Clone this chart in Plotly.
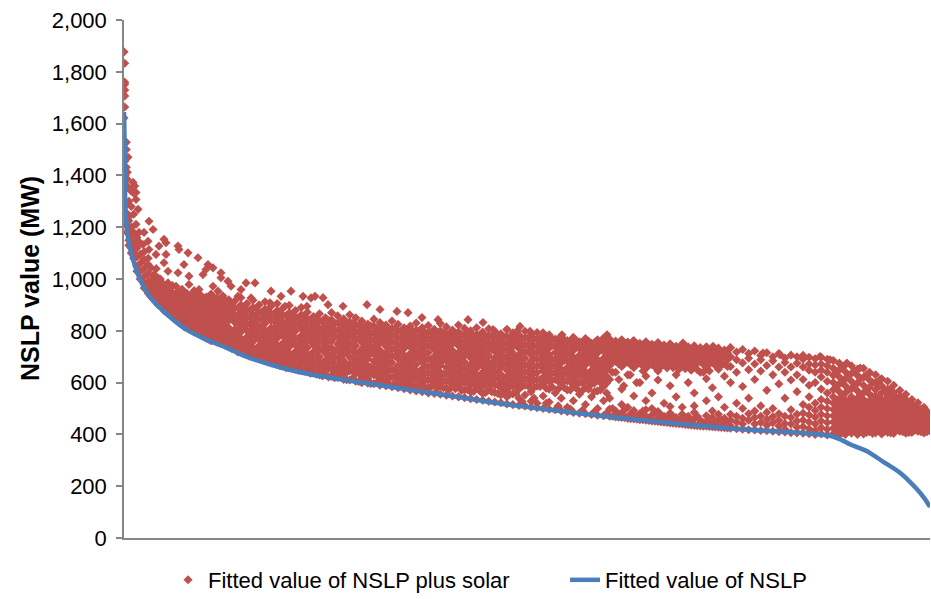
import plotly.graph_objects as go

# ---------------- Data ----------------
# x = share of the period (0-100 %, sorted by NSLP), y = MW
blue_x = [0, 0.09, 0.16, 0.5, 1.12, 2.11, 3.35, 5.46, 7.57, 10.05, 12.53, 14.76,
          18.98, 23.08, 27.17, 31.39, 35.48, 39.58, 43.8, 47.89, 59.06, 67.37,
          75.56, 83.87, 87.59, 88.8, 90.07, 92.2, 94.17, 96.28, 98.39, 99.38, 100]
blue_y = [1645, 1500, 1290, 1160, 1075, 990, 925, 860, 808, 768, 737, 705,
          662, 632, 611, 592, 572, 553, 533, 514, 472, 445,
          422, 406, 395, 382, 362, 335, 295, 252, 188, 150, 120]

# isolated red points (outliers above the dense cloud)
red_sparse_x = [0.0, 0.09, 0.09, 0.09, 0.09, 0.09, 0.09, 0.0, 0.29, 0.29, 0.5, 0.09, 0.29, 0.41,
                0.41, 1.12, 1.33, 0.9, 1.49, 1.24, 0.71, 0.87, 1.49, 1.74, 1.49, 1.86, 2.48,
                3.6, 3.1, 2.98, 2.36, 3.1, 4.34, 5.21, 4.96, 6.7, 6.82, 3.97, 5.21, 7.94, 9.18,
                2.48, 2.98, 4.96, 7.44, 10.42, 3.35, 5.46, 6.7, 10.17, 11.04, 3.72, 4.22, 8.06,
                9.8, 12.03, 12.03, 12.9, 4.22, 5.46, 6.45, 8.06, 11.04, 13.28, 15.14, 16.25,
                14.52, 4.59, 7.07, 9.31, 11.66, 14.14, 18.24, 19.48, 20.72, 22.21, 23.2, 19.98,
                18.11, 12.53, 15.76, 23.7, 24.69, 25.31, 22.7, 27.17, 30.15, 31.76, 33.87,
                35.24, 36.97, 38.96, 42.68, 44.54, 45.78, 47.52, 48.76, 49.13, 50.37, 51.99,
                54.34, 59.93, 63.15, 69.35, 73.08, 75.19, 79.28, 81.39, 84.24, 86.35, 87.59,
                89.7, 91.32, 92.31, 93.8, 95.04, 96.65, 98.76, 100,
                60.6, 61.4, 62.0, 62.8, 63.6, 64.4]
red_sparse_y = [1877, 1833, 1760, 1752, 1730, 1707, 1664, 1622, 1528, 1500, 1470, 1455, 1431, 1412,
                1385, 1373, 1359, 1346, 1334, 1330, 1243, 1340, 1307, 1269, 1211, 1180, 1180,
                1191, 1223, 1146, 1133, 1114, 1127, 1140, 1153, 1127, 1114, 1095, 1095, 1101, 1082,
                1075, 1056, 1063, 1056, 1056, 1043, 1030, 1024, 1037, 1043, 1017, 1005, 1011,
                1017, 1024, 1005, 991, 985, 985, 972, 979, 972, 972, 985, 985,
                959, 959, 953, 959, 953, 933, 953, 933, 953, 933, 927, 895,
                908, 921, 927, 933, 928, 901, 895, 895, 901, 882, 875,
                870, 851, 843, 843, 832, 805, 805, 798, 817, 798, 792,
                785, 785, 759, 753, 740, 734, 714, 708, 701, 701, 688,
                675, 656, 630, 611, 572, 534, 489, 456,
                640, 612, 588, 630, 600, 645]

# dense part of the red cloud, read column by column
red_col_x = [0.15, 0.35, 0.6, 0.9, 1.2, 1.6, 2.0, 2.5, 3.0, 3.5, 4.0, 4.5, 5.0, 5.5, 6.0,
             6.6, 7.2, 7.8, 8.4, 9.0, 9.6, 10.2, 10.8,
             11.5, 12.25, 13.0, 13.75, 14.5, 15.25, 16.0, 16.75, 17.5, 18.25, 19.0, 19.75,
             20.5, 21.25, 22.0, 22.75, 23.5, 24.25, 25.0, 25.75, 26.5, 27.25, 28.0, 28.75,
             29.5, 30.25, 31.0, 31.75, 32.5, 33.25, 34.0, 34.75, 35.5, 36.25, 37.0, 37.75,
             38.5, 39.25, 40.0, 40.75, 41.5, 42.25, 43.0, 43.75, 44.5, 45.25, 46.0, 46.75,
             47.5, 48.25, 49.0, 49.75, 50.5, 51.25, 52.0, 52.75, 53.5, 54.25, 55.0, 55.75,
             56.5, 57.25, 58.0, 58.75, 59.5,
             60.25, 61.0, 61.75, 62.5, 63.25, 64.0, 64.75, 65.5, 66.25, 67.0, 67.75, 68.5,
             69.25, 70.0, 70.75, 71.5, 72.25, 73.0, 73.75, 74.5,
             75.25, 76.0, 76.75, 77.5, 78.25, 79.0, 79.75, 80.5, 81.25, 82.0, 82.75, 83.5,
             84.25, 85.0, 85.75, 86.5, 87.25,
             88.0, 88.75, 89.5, 90.25, 91.0, 91.75, 92.5, 93.25, 94.0, 94.75, 95.5, 96.25,
             97.0, 97.75, 98.5, 99.25, 99.9]
red_col_y = [
    [1400, 1350, 1300, 1260, 1230], [1360, 1290, 1250, 1205, 1180], [1300, 1225, 1190, 1150, 1130],
    [1280, 1200, 1165, 1120, 1100], [1250, 1180, 1140, 1100, 1080], [1160, 1120, 1085, 1050, 1030],
    [1140, 1095, 1060, 1030, 1000], [1105, 1040, 1010, 985, 965], [1080, 1020, 990, 965, 945],
    [1000, 975, 950, 928], [1040, 985, 960, 935, 912], [1000, 975, 952, 928, 898],
    [965, 940, 918, 895, 877], [955, 930, 908, 885, 866], [975, 948, 925, 902, 880, 855],
    [950, 928, 905, 883, 862, 840], [960, 935, 912, 890, 868, 846, 825],
    [945, 922, 900, 878, 856, 834, 812], [940, 915, 892, 870, 848, 826, 803],
    [948, 925, 900, 878, 856, 835, 815, 793], [935, 912, 890, 866, 845, 824, 802, 782],
    [930, 905, 880, 855, 832, 810, 788, 771], [942, 915, 890, 865, 840, 817, 795, 772, 762],
    [925, 897, 871, 842, 818, 795, 772, 757], [935, 908, 880, 853, 826, 803, 780, 752],
    [920, 893, 866, 840, 812, 790, 765, 742], [915, 888, 858, 832, 806, 782, 757, 735],
    [928, 900, 873, 845, 820, 795, 770, 745, 722], [905, 878, 852, 826, 800, 776, 752, 730, 712],
    [918, 890, 862, 836, 810, 784, 758, 733, 705], [900, 872, 845, 818, 792, 768, 742, 718, 698],
    [912, 884, 856, 828, 802, 777, 750, 726, 700, 688], [895, 866, 840, 812, 786, 760, 735, 710, 685, 676],
    [905, 878, 850, 823, 797, 770, 745, 720, 695, 672], [888, 860, 832, 806, 780, 754, 728, 703, 680, 666],
    [898, 870, 842, 815, 789, 762, 737, 712, 688, 660], [878, 852, 825, 798, 772, 746, 720, 695, 668, 652],
    [890, 862, 835, 808, 782, 755, 730, 705, 680, 650], [872, 845, 815, 790, 762, 735, 708, 682, 655, 642],
    [855, 828, 800, 772, 745, 718, 690, 663, 638], [866, 838, 810, 783, 756, 728, 700, 673, 648, 630],
    [850, 822, 795, 768, 740, 713, 686, 660, 632], [870, 842, 815, 788, 760, 733, 706, 680, 652, 625],
    [858, 830, 802, 775, 748, 722, 695, 668, 642, 620], [846, 818, 790, 763, 737, 710, 684, 657, 632, 612],
    [862, 835, 808, 780, 752, 726, 698, 672, 646, 610], [850, 822, 795, 768, 742, 715, 688, 662, 636, 605],
    [838, 810, 784, 756, 730, 703, 676, 650, 625, 600], [826, 800, 772, 745, 718, 692, 665, 640, 615, 598],
    [845, 818, 790, 763, 736, 710, 683, 655, 630, 596], [832, 806, 778, 752, 725, 698, 672, 645, 618, 590],
    [822, 795, 768, 740, 714, 687, 660, 634, 605, 588], [838, 810, 783, 757, 730, 703, 677, 650, 622, 584],
    [825, 798, 772, 745, 718, 692, 665, 638, 612, 580], [812, 786, 760, 732, 706, 680, 653, 627, 598, 576],
    [818, 790, 764, 738, 712, 685, 658, 632, 605, 572], [830, 803, 776, 750, 724, 698, 670, 645, 618, 590, 568],
    [812, 785, 760, 733, 706, 680, 654, 627, 600, 565], [820, 794, 768, 742, 716, 690, 662, 636, 610, 582, 560],
    [806, 780, 755, 728, 702, 676, 650, 624, 595, 558], [828, 800, 773, 747, 720, 694, 667, 640, 614, 588, 555],
    [815, 788, 762, 736, 710, 684, 658, 632, 605, 578, 551], [803, 777, 750, 724, 698, 672, 646, 620, 594, 548],
    [822, 795, 768, 742, 716, 690, 663, 637, 610, 584, 545], [810, 784, 758, 732, 705, 680, 653, 626, 600, 572, 542],
    [800, 774, 748, 722, 696, 670, 644, 618, 592, 565, 538], [812, 786, 760, 734, 708, 682, 655, 630, 604, 578, 535],
    [795, 770, 744, 718, 692, 665, 640, 613, 586, 558, 532], [808, 782, 756, 730, 704, 678, 652, 626, 600, 572, 528],
    [798, 772, 746, 720, 694, 668, 642, 616, 590, 562, 525], [788, 762, 736, 710, 684, 658, 632, 606, 580, 552, 522],
    [805, 778, 752, 726, 700, 674, 648, 622, 596, 570, 545, 518], [792, 766, 740, 714, 688, 662, 636, 610, 584, 556, 515],
    [784, 758, 732, 706, 680, 654, 628, 602, 575, 540, 512], [798, 772, 746, 720, 694, 668, 642, 616, 590, 552, 510],
    [785, 760, 734, 708, 682, 656, 630, 604, 565, 528, 506], [793, 768, 742, 716, 690, 664, 638, 612, 586, 520, 503],
    [776, 750, 724, 698, 672, 646, 620, 595, 548, 500], [785, 760, 734, 708, 682, 656, 630, 604, 575, 525, 497],
    [768, 742, 716, 690, 664, 638, 612, 560, 495], [780, 755, 729, 703, 677, 651, 625, 598, 540, 491],
    [762, 736, 710, 684, 658, 632, 606, 572, 505, 488], [775, 750, 724, 698, 672, 646, 620, 592, 530, 485],
    [758, 732, 706, 680, 654, 628, 600, 555, 482], [770, 745, 720, 694, 668, 642, 616, 580, 515, 480],
    [752, 726, 700, 674, 648, 622, 595, 545, 477], [765, 740, 714, 688, 662, 636, 610, 568, 500, 474],
    [772, 746, 720, 694, 668, 642, 615, 585, 530, 472],
    [768, 742, 716, 690, 665, 612, 540, 498, 470], [760, 735, 709, 683, 640, 490, 467],
    [765, 738, 712, 686, 662, 575, 515, 482, 465], [757, 731, 705, 680, 630, 505, 468, 462],
    [762, 735, 709, 683, 658, 548, 492, 460], [752, 726, 700, 675, 600, 480, 457],
    [758, 732, 706, 680, 655, 625, 530, 495, 470, 455], [748, 722, 696, 670, 560, 500, 475, 452],
    [755, 728, 702, 676, 645, 610, 488, 462, 450], [745, 719, 693, 668, 520, 470, 447],
    [750, 724, 698, 672, 588, 508, 482, 458, 444], [740, 715, 690, 662, 630, 545, 465, 442],
    [748, 720, 694, 668, 505, 478, 455, 440], [738, 712, 686, 660, 600, 470, 448, 437],
    [742, 716, 690, 664, 560, 510, 485, 460, 435], [735, 708, 682, 640, 455, 433],
    [738, 712, 686, 658, 615, 530, 472, 450, 432], [730, 704, 678, 580, 490, 465, 445, 430],
    [733, 706, 680, 652, 545, 478, 455, 428], [726, 700, 672, 625, 505, 462, 440, 426],
    [735, 700, 662, 600, 478, 455, 432, 424], [718, 688, 640, 520, 470, 448, 422],
    [728, 676, 585, 500, 462, 440, 420], [712, 694, 650, 540, 480, 455, 418],
    [722, 672, 612, 490, 465, 440, 417], [705, 688, 645, 510, 470, 446, 415],
    [715, 666, 570, 485, 458, 435, 414], [700, 684, 630, 500, 468, 445, 412],
    [712, 660, 595, 480, 455, 432, 410], [695, 678, 640, 540, 470, 442, 420, 409],
    [706, 660, 610, 495, 465, 440, 407], [700, 675, 630, 565, 478, 452, 428, 406],
    [705, 690, 660, 612, 515, 482, 455, 430, 405], [698, 672, 648, 590, 545, 505, 475, 448, 422, 403],
    [692, 668, 640, 600, 520, 492, 466, 440, 415, 400], [698, 672, 648, 622, 575, 535, 505, 478, 452, 426, 402],
    [690, 665, 640, 605, 560, 528, 500, 472, 446, 420, 398],
    [685, 655, 628, 600, 572, 545, 520, 496, 472, 448, 425, 402], [675, 650, 622, 595, 565, 538, 515, 490, 466, 442, 418, 398],
    [670, 642, 615, 588, 560, 532, 518, 494, 470, 446, 422, 400], [665, 635, 605, 575, 545, 522, 498, 474, 450, 426, 405],
    [652, 628, 598, 568, 540, 516, 492, 468, 444, 420, 400], [655, 620, 590, 560, 535, 512, 488, 464, 440, 416, 402],
    [640, 610, 582, 555, 530, 506, 482, 458, 434, 410], [630, 600, 572, 548, 525, 500, 476, 452, 428, 406],
    [615, 588, 560, 535, 512, 488, 464, 440, 416, 402], [605, 575, 548, 526, 502, 478, 454, 430, 408],
    [590, 562, 538, 515, 492, 468, 444, 420, 404], [570, 548, 528, 505, 482, 458, 434, 412],
    [555, 535, 512, 490, 466, 442, 420, 405], [535, 518, 496, 472, 448, 426, 408],
    [522, 500, 478, 455, 432, 412], [505, 485, 462, 440, 420, 406], [480, 458, 436, 415],
]

# in-between columns of the dense cloud (it is nearly solid in the reference)
red_fill_x = [3.25, 3.75, 4.25, 4.75, 5.25, 5.75, 6.3, 6.9, 7.5, 8.1, 8.7, 9.3, 9.9, 10.5, 11.15,
              11.875, 12.625, 13.375, 14.125, 14.875, 15.625, 16.375, 17.125, 17.875, 18.625,
              19.375, 20.125, 20.875, 21.625, 22.375, 23.125, 23.875, 24.625, 25.375, 26.125,
              26.875, 27.625, 28.375, 29.125, 29.875, 30.625, 31.375, 32.125, 32.875, 33.625,
              34.375, 35.125, 35.875, 36.625, 37.375, 38.125, 38.875, 39.625, 40.375, 41.125,
              41.875, 42.625, 43.375, 44.125, 44.875, 45.625, 46.375, 47.125, 47.875, 48.625,
              49.375, 50.125, 50.875, 51.625, 52.375, 53.125, 53.875, 54.625, 55.375, 56.125,
              56.875, 57.625, 58.375, 59.125, 59.875,
              60.625, 61.375, 62.125, 62.875, 63.625, 64.375, 65.125, 65.875, 66.625, 67.375,
              68.125, 68.875, 69.625, 70.375, 71.125, 71.875, 72.625, 73.375, 74.125, 74.875,
              88.375, 89.125, 89.875, 90.625, 91.375, 92.125, 92.875, 93.625, 94.375, 95.125,
              95.875, 96.625, 97.375, 98.125, 98.875, 99.6]
red_fill_y = [
    [985, 958, 935], [1010, 965, 940, 918], [970, 945, 920, 900], [985, 962, 938, 915, 890],
    [950, 925, 902, 882], [965, 940, 918, 895, 872], [938, 915, 892, 870, 850],
    [945, 920, 898, 876, 853, 836], [950, 925, 902, 880, 858, 836, 815],
    [930, 908, 886, 864, 842, 820, 806], [955, 928, 905, 882, 860, 838, 816, 796],
    [935, 912, 890, 866, 845, 823, 802, 788], [920, 895, 870, 848, 826, 804, 783],
    [925, 900, 875, 850, 828, 806, 782, 768], [930, 905, 880, 855, 830, 808, 785, 764],
    [912, 884, 856, 830, 805, 782, 762], [898, 870, 843, 818, 793, 770, 748],
    [905, 876, 850, 798, 772, 748, 732], [888, 860, 835, 808, 783, 760, 733, 718],
    [892, 865, 838, 812, 763, 740, 716], [880, 852, 825, 800, 774, 748, 722, 702],
    [886, 858, 830, 805, 780, 728, 703], [872, 845, 818, 792, 765, 740, 714, 692],
    [878, 850, 797, 770, 746, 720, 695, 680], [865, 838, 810, 784, 758, 732, 706, 682],
    [870, 842, 815, 788, 736, 710, 685, 665], [858, 830, 803, 776, 750, 724, 700, 675, 658],
    [862, 835, 808, 782, 756, 705, 680, 655], [850, 822, 770, 743, 718, 692, 668, 648],
    [855, 828, 802, 776, 750, 724, 698, 672, 645], [842, 815, 788, 762, 708, 683, 657, 636],
    [848, 820, 793, 767, 740, 714, 688, 662, 632], [836, 808, 782, 755, 728, 676, 650, 626],
    [840, 812, 786, 760, 733, 707, 681, 655, 622], [830, 803, 776, 724, 697, 670, 645, 619],
    [835, 808, 782, 755, 728, 702, 676, 650, 624], [824, 797, 770, 744, 718, 666, 640, 611],
    [828, 802, 775, 749, 722, 696, 670, 644, 618], [822, 795, 768, 715, 689, 663, 637, 604],
    [815, 788, 762, 736, 710, 684, 658, 632, 610], [818, 792, 765, 739, 713, 660, 634, 597],
    [810, 784, 757, 731, 705, 679, 653, 627, 600], [812, 786, 760, 708, 681, 655, 628, 602],
    [805, 779, 753, 727, 700, 674, 648, 620, 596], [808, 782, 755, 729, 703, 650, 624, 598],
    [800, 774, 748, 722, 695, 669, 643, 617, 590], [804, 778, 751, 699, 672, 646, 619, 592],
    [796, 770, 744, 718, 692, 665, 639, 613, 586], [800, 773, 747, 720, 694, 641, 614, 588],
    [792, 766, 740, 714, 688, 661, 635, 608, 580], [795, 769, 743, 690, 664, 637, 610, 584],
    [790, 763, 737, 711, 685, 658, 632, 605, 578], [792, 766, 740, 713, 687, 634, 607, 580],
    [788, 761, 735, 709, 683, 656, 630, 603, 574], [790, 763, 711, 684, 658, 631, 604, 576],
    [785, 758, 732, 706, 680, 653, 627, 600, 570], [787, 760, 734, 708, 655, 628, 601, 573],
    [782, 755, 729, 703, 677, 650, 624, 597, 566], [784, 757, 731, 705, 678, 625, 598, 569],
    [778, 752, 726, 700, 674, 647, 621, 594, 562], [781, 754, 728, 675, 649, 622, 595, 565],
    [775, 749, 723, 697, 671, 644, 618, 591, 558], [778, 751, 725, 699, 672, 619, 592, 562],
    [772, 746, 720, 694, 668, 641, 615, 588, 555], [775, 748, 696, 669, 643, 616, 589, 560],
    [770, 744, 718, 692, 665, 639, 612, 585, 528], [772, 746, 720, 667, 641, 614, 587],
    [768, 742, 716, 690, 663, 637, 610, 582, 540], [770, 744, 718, 691, 665, 612, 585],
    [765, 739, 713, 687, 661, 635, 608, 578, 520], [768, 742, 689, 663, 637, 610, 583],
    [762, 736, 710, 684, 658, 632, 605, 575, 510], [765, 739, 713, 686, 634, 607, 580],
    [760, 734, 708, 682, 656, 630, 603, 572, 498], [762, 736, 683, 657, 631, 604, 577],
    [757, 731, 705, 679, 653, 627, 600, 570, 493], [760, 734, 708, 681, 629, 602, 575],
    [755, 729, 703, 677, 651, 625, 598, 565, 488], [757, 731, 678, 652, 626, 600, 572],
    [752, 726, 700, 675, 650, 625, 598, 560, 482],
    [755, 729, 703, 678, 500, 470], [750, 724, 698, 672, 478, 466], [752, 726, 700, 674, 495, 464],
    [746, 720, 694, 668, 480, 461], [748, 722, 696, 670, 470, 459], [742, 716, 690, 664, 490, 457],
    [745, 719, 693, 667, 462, 454], [738, 712, 686, 660, 485, 451], [740, 714, 688, 662, 475, 448],
    [735, 709, 683, 657, 460, 446], [736, 710, 684, 658, 470, 443], [730, 704, 678, 652, 455, 441],
    [732, 706, 680, 654, 465, 438], [726, 700, 674, 648, 450, 436], [728, 702, 676, 650, 470, 434],
    [722, 696, 670, 640, 445, 432], [724, 698, 672, 645, 460, 431], [718, 692, 666, 440, 429],
    [720, 694, 668, 455, 427], [714, 688, 662, 440, 425],
    [640, 585, 530, 508, 484, 460, 436, 412], [660, 600, 545, 525, 502, 478, 454, 430, 408],
    [628, 572, 528, 506, 482, 458, 434, 412], [645, 590, 532, 510, 486, 462, 438, 414],
    [615, 555, 528, 504, 480, 456, 432, 410], [630, 575, 522, 500, 476, 452, 428, 408],
    [600, 545, 518, 494, 470, 446, 422, 404], [585, 538, 514, 490, 466, 442, 418],
    [570, 528, 505, 482, 458, 434, 412], [555, 522, 498, 474, 450, 426, 406],
    [540, 516, 492, 468, 444, 420], [522, 500, 478, 454, 430, 410],
    [515, 490, 468, 444, 422, 408], [505, 482, 460, 438, 416],
    [498, 472, 450, 428, 410], [490, 465, 445, 425, 410],
]

y_ticks = [0, 200, 400, 600, 800, 1000, 1200, 1400, 1600, 1800, 2000]
name_red = "Fitted value of NSLP plus solar"
name_blue = "Fitted value of NSLP"

# ---------------- Build figure ----------------
red_x, red_y = [], []
for cols_x, cols_y in ((red_col_x, red_col_y), (red_fill_x, red_fill_y)):
    for cx, ys in zip(cols_x, cols_y):
        for v in ys:
            red_x.append(cx)
            red_y.append(v)
red_x += red_sparse_x
red_y += red_sparse_y

RED = "#C0504D"
BLUE = "#4A7EBB"
FONT = "Liberation Sans, Arial, sans-serif"

fig = go.Figure()
fig.add_trace(go.Scatter(
    x=red_x, y=red_y, mode="markers", name=name_red,
    marker=dict(symbol="diamond", size=7, color=RED, line=dict(width=0)),
))
fig.add_trace(go.Scatter(
    x=blue_x, y=blue_y, mode="lines", name=name_blue,
    line=dict(color=BLUE, width=4.5, shape="spline", smoothing=0.6),
))

fig.update_layout(
    width=931, height=599,
    margin=dict(l=124, r=1, t=20, b=61),
    plot_bgcolor="white", paper_bgcolor="white",
    font=dict(family=FONT, size=22, color="black"),
    showlegend=True,
    legend=dict(orientation="h", xref="container", yref="container",
                x=0.1805, y=0.0317, xanchor="left", yanchor="middle",
                entrywidth=352, entrywidthmode="pixels",
                font=dict(size=22), bgcolor="rgba(0,0,0,0)"),
    annotations=[dict(text="<b>NSLP value (MW)</b>", textangle=-90, xref="paper", yref="paper",
                      x=-0.1166, y=0.5, xanchor="center", yanchor="middle", showarrow=False,
                      font=dict(size=25, family=FONT))],
)
fig.update_xaxes(range=[0, 100], showticklabels=False, ticks="", showgrid=False, zeroline=False,
                 showline=True, linecolor="#868686", linewidth=1.5)
fig.update_yaxes(range=[0, 2000], tickvals=y_ticks, tickformat=",", ticks="outside", ticklen=6,
                 tickcolor="#868686", tickwidth=1.5, showgrid=False, zeroline=False,
                 showline=True, linecolor="#868686", linewidth=1.5, ticklabelstandoff=5,
                 ticklabeloverflow="allow", tickfont=dict(size=22))

# remove the browser's default 8px body margin so the figure sits at the page origin
fig.write_html("out.html", config={"displayModeBar": False},
               post_script="document.body.style.margin='0px';")
